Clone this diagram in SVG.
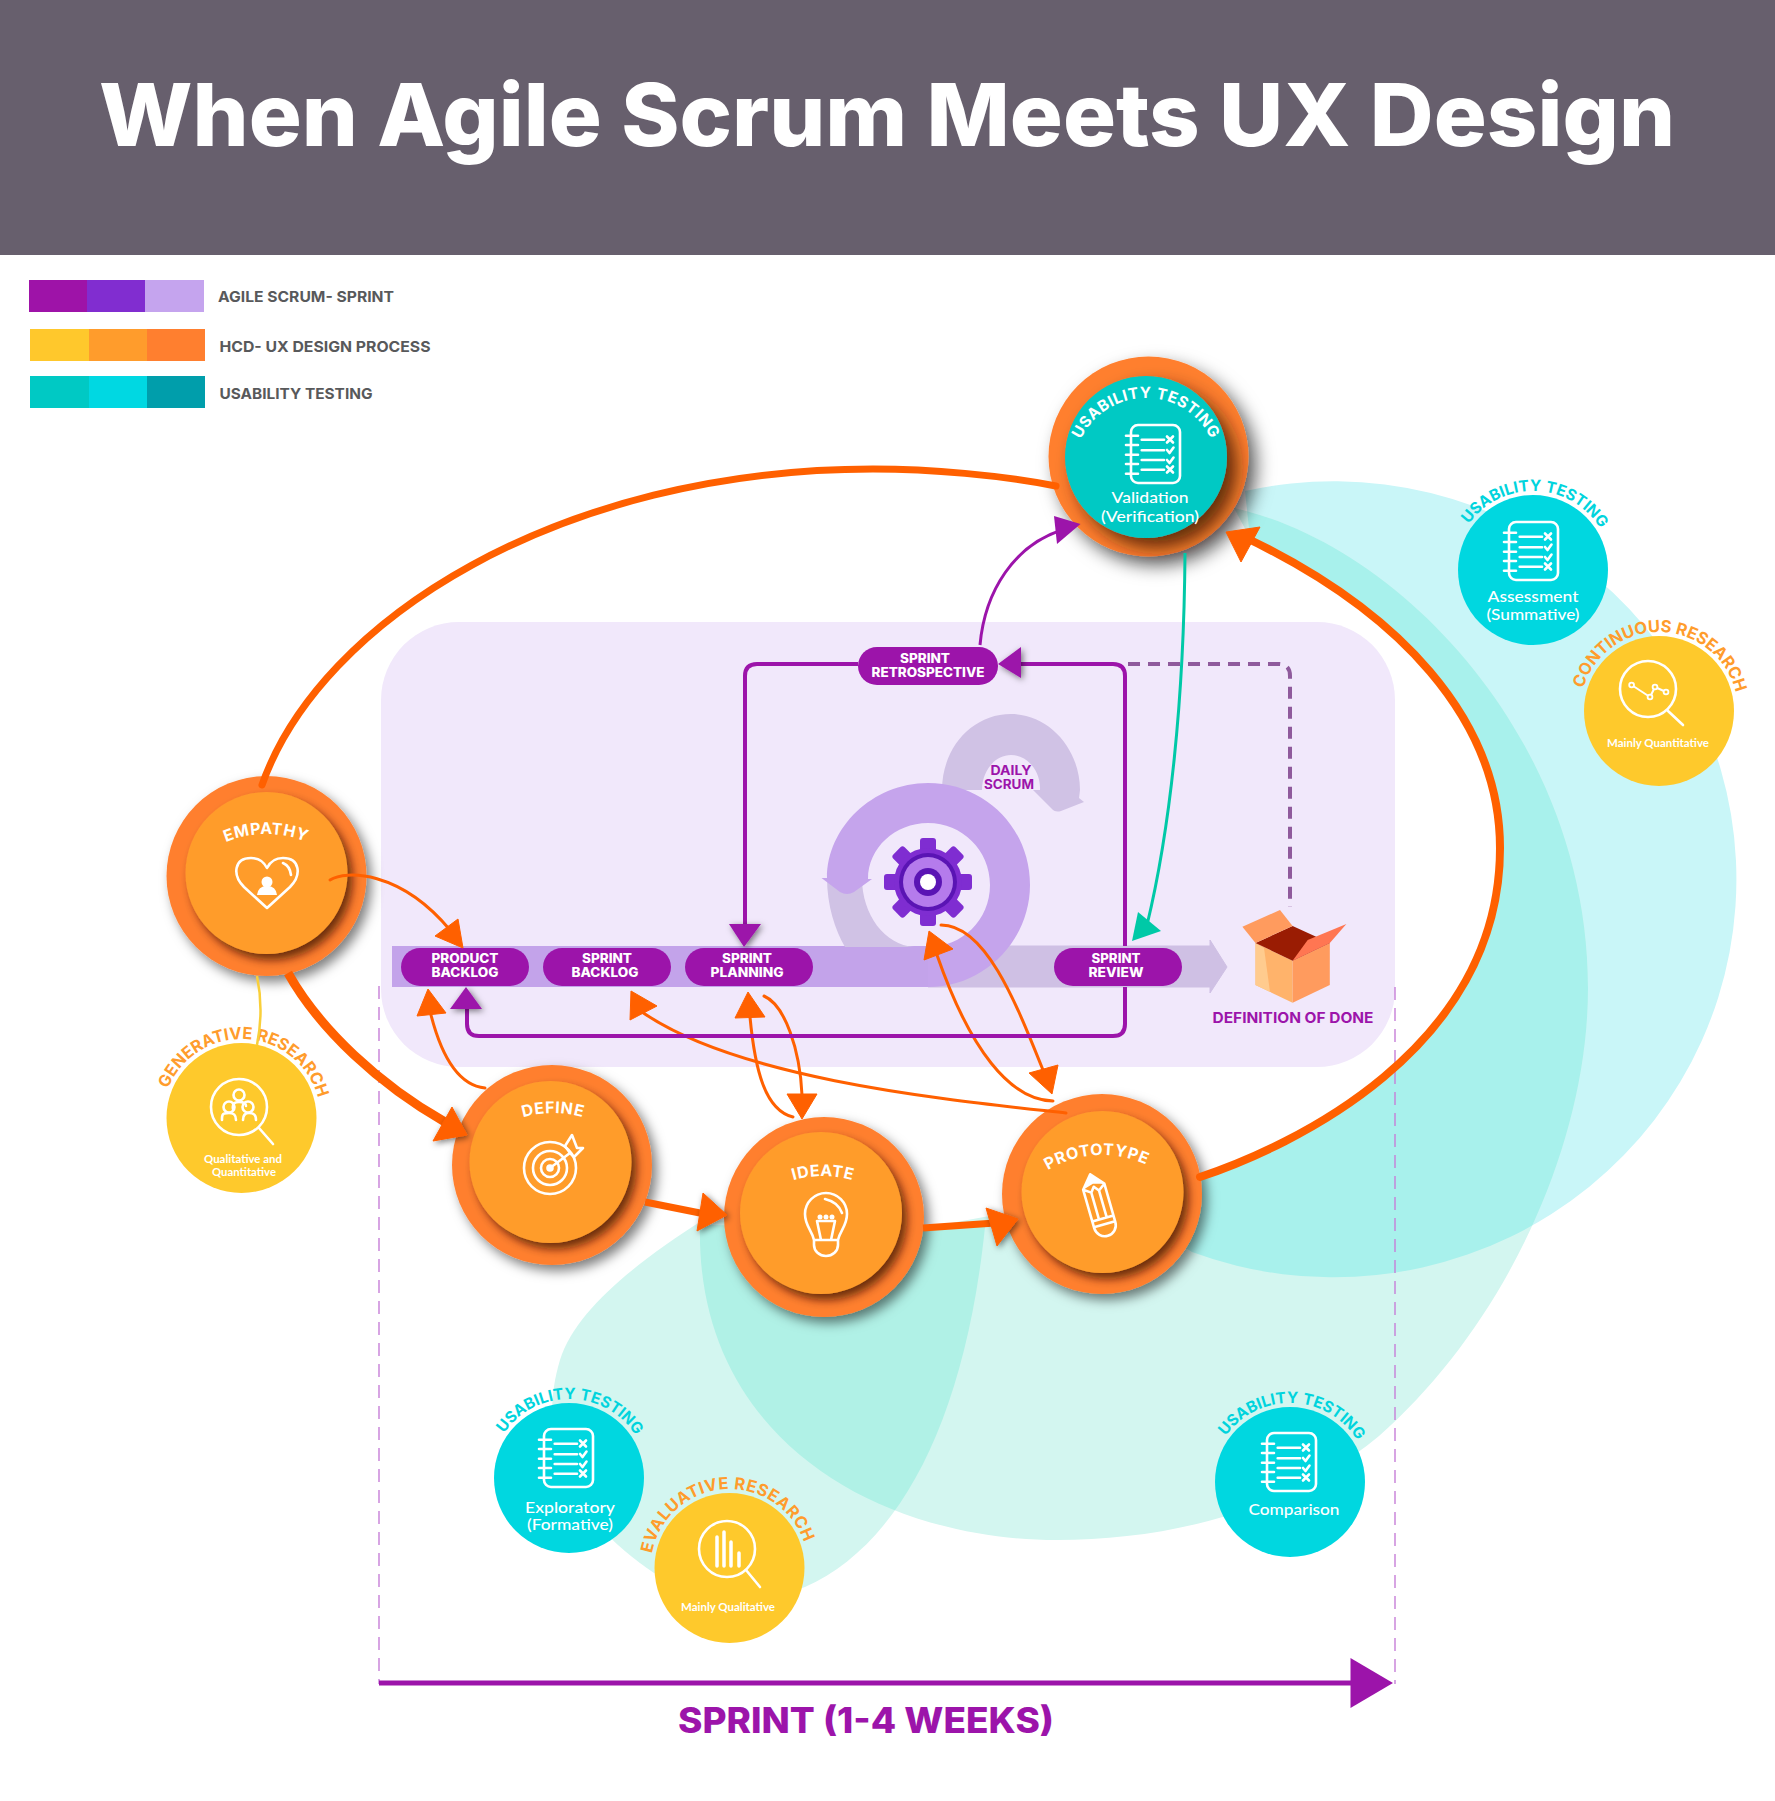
<svg xmlns="http://www.w3.org/2000/svg" width="1775" height="1801" viewBox="0 0 1775 1801">
<style>
.h{font-family:"Inter","Liberation Sans",sans-serif;font-weight:700}
.l{font-family:"Lato","Open Sans",sans-serif;fill:#fff;text-anchor:middle;font-weight:500}
.lb{font-weight:700}
.p{font-size:12.5px;fill:#fff;text-anchor:middle;font-weight:800}
.leg{font-size:15px;font-weight:700;fill:#58595b}
.arcw{font-size:16px;fill:#fff;letter-spacing:.6px;text-anchor:middle}
.arco{font-size:16.5px;letter-spacing:0;text-anchor:middle;fill:#ff9c2c}
.t{font-size:15.500px;letter-spacing:.1px;text-anchor:middle;fill:#00d4dd}
.ring{fill:#ff7f2f;filter:url(#sh)}
.core{fill:#ff9c2c;filter:url(#sh2)}
.teal{fill:#00d7e0}.yel{fill:#fec92c}
.ic{fill:none;stroke:#fff;stroke-width:2.6;stroke-linecap:round;stroke-linejoin:round}
.or{fill:none;stroke:#ff6000;stroke-linecap:round}
.ah{fill:#ff6000;stroke:#ff6000;stroke-width:1;stroke-linejoin:round}
.ap{fill:#9c14aa}
.pu{fill:none;stroke:#9c14aa;stroke-width:4}
.pill{fill:#9c14aa}
.vd{stroke:#c77fd8;stroke-width:1.4;stroke-dasharray:13 8;fill:none}
</style>
<defs>
<filter id="sh" x="-30%" y="-30%" width="170%" height="170%"><feDropShadow dx="5" dy="6" stdDeviation="6" flood-color="#000" flood-opacity=".5"/></filter>
<filter id="sh2" x="-30%" y="-30%" width="170%" height="170%"><feDropShadow dx="5" dy="6" stdDeviation="5" flood-color="#3a1500" flood-opacity=".75"/></filter>
<filter id="sh3" x="-30%" y="-30%" width="170%" height="170%"><feDropShadow dx="8" dy="9" stdDeviation="9" flood-color="#000" flood-opacity=".6"/></filter>
<filter id="sh4" x="-30%" y="-30%" width="170%" height="170%"><feDropShadow dx="10" dy="10" stdDeviation="9" flood-color="#3a1500" flood-opacity=".8"/></filter>
<filter id="sa" x="-50%" y="-50%" width="220%" height="220%"><feDropShadow dx="2" dy="2" stdDeviation="3" flood-color="#000" flood-opacity=".5"/></filter>
<path id="arcOuter" d="M-68.4,39.5A79,79 0 1 1 68.4,39.5"/>
<path id="arcInner" d="M-105,0A105,105 0 0 1 105,0"/>
<path id="arcVal" d="M-72,0A72,72 0 0 1 72,0"/>
<path id="shC" d="M1245,491A403,398 0 1 1 1192,1252L1102,1194L1200,1177C1290,1147 1500,1050 1500,848C1500,720 1400,610 1250,538Z"/>
<path id="shB" d="M1234,508C1400,545 1588,740 1588,988C1588,1150 1500,1330 1379,1436C1290,1510 1170,1540 1057,1540C880,1540 695,1440 700,1225L924,1228L1200,1177C1290,1147 1500,1050 1500,848C1500,720 1400,610 1250,538Z"/>
<path id="shA" d="M703,1220C640,1260 575,1310 560,1360C530,1460 590,1530 654,1573C690,1595 760,1605 805,1587C900,1545 965,1420 985,1227Z"/>
<clipPath id="clipC"><use href="#shC"/></clipPath>
<clipPath id="clipA"><use href="#shA"/></clipPath>
<g id="notebook" class="ic">
<rect x="5" y="0" width="49" height="58" rx="7"/>
<path d="M0,10.700H12M0,20H12M0,29.700H12M0,39H12M0,48.700H12M15.700,14.700H38M15.700,25.300H38M15.700,35H38M15.700,44.700H38"/>
<path d="M41,11.500L47,17.500M47,11.500L41,17.500M41,25L43.500,28L47.500,22.500M41,35L43.500,38L47.500,32.500M41,41.500L47,47.500M47,41.500L41,47.500"/>
</g>
</defs>
<rect id="bg" width="1775" height="1801" fill="#fff"/>
<rect id="header" width="1775" height="255" fill="#675f6d"/>
<text class="h" x="887" y="146" font-size="87" fill="#fff" text-anchor="middle" textLength="1576" lengthAdjust="spacingAndGlyphs" style="font-weight:800">When Agile Scrum Meets UX Design</text>
<g id="legend">
<rect x="29" y="280" width="58" height="32" fill="#9e13a8"/><rect x="87" y="280" width="58" height="32" fill="#812dd0"/><rect x="145" y="280" width="59" height="32" fill="#c5a4ee"/>
<rect x="30" y="329" width="59" height="32" fill="#ffc82c"/><rect x="89" y="329" width="58" height="32" fill="#ff9c2c"/><rect x="147" y="329" width="58" height="32" fill="#ff7f2f"/>
<rect x="30" y="376" width="59" height="32" fill="#00c9c4"/><rect x="89" y="376" width="58" height="32" fill="#00d8e2"/><rect x="147" y="376" width="58" height="32" fill="#009eab"/>
<text class="h leg" x="218" y="302" textLength="176" lengthAdjust="spacingAndGlyphs">AGILE SCRUM- SPRINT</text>
<text class="h leg" x="219.500" y="352" textLength="211" lengthAdjust="spacingAndGlyphs">HCD- UX DESIGN PROCESS</text>
<text class="h leg" x="219.500" y="399" textLength="153" lengthAdjust="spacingAndGlyphs">USABILITY TESTING</text>
</g>
<g id="background-shapes">
<use href="#shC" fill="#c9f6f8"/>
<use href="#shB" fill="#d3f6f0"/>
<use href="#shA" fill="#d3f6f0"/>
<use href="#shB" fill="#a8f1ec" clip-path="url(#clipC)"/>
<use href="#shB" fill="#b0f1e6" clip-path="url(#clipA)"/>
<rect x="381" y="622" width="1014" height="445" rx="78" fill="#f1e8fb"/>
<path class="vd" d="M379,986V1684M1395,987V1684"/>
</g>
<g id="sprint-cycle">
<path d="M942,790C942,748 972,714 1011,714C1050,714 1080,750 1080,790L1079,798L1084,802L1061,811Q1055,813 1051,808L1033,790L1040,790C1041,772 1028,755 1011,755C994,755 982,772 982,790Z" fill="#d0c2e5"/>
<path d="M928,946H1210V940L1227,967L1210,993V987H928Z" fill="#cfc0e4" stroke="#cfc0e4" stroke-linejoin="round"/>
<rect x="392" y="946" width="536" height="41" fill="#c3a3ea"/>
<path d="M827,878C827,905 835,930 845,947L914,947C885,945 862,915 862,878Z" fill="#d0c2e5"/>
<path d="M928,987C985,987 1030,940 1030,885C1030,828 985,783 928,783C872,783 827,828 827,878L821.500,878L840,892Q847,896 854,892L872,879L868,879C868,848 895,823 928,823C962,823 990,850 990,885C990,920 962,947 928,947Z" fill="#c5a4ec"/>
<g id="gear" transform="translate(928,882)">
<g fill="#7f2dd1"><rect x="-8" y="-44" width="16" height="18" rx="3"/><rect x="-8" y="-44" width="16" height="18" rx="3" transform="rotate(45)"/><rect x="-8" y="-44" width="16" height="18" rx="3" transform="rotate(90)"/><rect x="-8" y="-44" width="16" height="18" rx="3" transform="rotate(135)"/><rect x="-8" y="-44" width="16" height="18" rx="3" transform="rotate(180)"/><rect x="-8" y="-44" width="16" height="18" rx="3" transform="rotate(225)"/><rect x="-8" y="-44" width="16" height="18" rx="3" transform="rotate(270)"/><rect x="-8" y="-44" width="16" height="18" rx="3" transform="rotate(315)"/><circle r="34"/></g>
<circle r="29" fill="#5a14b4"/><circle r="25" fill="#b57bec"/><circle r="14" fill="#5a14b4"/><circle r="8" fill="#fff"/>
</g>
<g class="h" fill="#9c14aa" font-size="13" text-anchor="middle">
<text x="1011" y="775" textLength="41" lengthAdjust="spacingAndGlyphs">DAILY</text>
<text x="1009" y="789" textLength="50" lengthAdjust="spacingAndGlyphs">SCRUM</text>
</g>
</g>
<g id="definition-of-done">
<polygon points="1255.500,943 1292.600,960.700 1292.600,1002.700 1255.500,985" fill="#ffb36b"/>
<polygon points="1255.500,943 1264,948 1270,992 1255.500,985" fill="#ffcb8e"/>
<polygon points="1292.600,960.700 1329.800,943 1329.800,985 1292.600,1002.700" fill="#ff9b5e"/>
<polygon points="1255.500,943 1292.600,926 1329.800,943 1292.600,960.700" fill="#9a1c03"/>
<polygon points="1242.400,926.700 1280,910 1292.600,926 1255.500,943" fill="#ff9b5e"/>
<polygon points="1292.600,960.700 1307.700,940 1346.400,924 1329.800,943" fill="#ff7652"/>
<text class="h" x="1293" y="1023" font-size="14.500" fill="#9c14aa" text-anchor="middle" textLength="161" lengthAdjust="spacingAndGlyphs">DEFINITION OF DONE</text>
</g>
<g id="product-backlog"><rect class="pill" x="401" y="948" width="128" height="38" rx="19"/><text class="h p" x="465" y="963" textLength="67" lengthAdjust="spacingAndGlyphs">PRODUCT</text><text class="h p" x="465" y="977" textLength="67" lengthAdjust="spacingAndGlyphs">BACKLOG</text></g>
<g id="sprint-backlog"><rect class="pill" x="543" y="948" width="128" height="38" rx="19"/><text class="h p" x="607" y="963" textLength="50" lengthAdjust="spacingAndGlyphs">SPRINT</text><text class="h p" x="605" y="977" textLength="67" lengthAdjust="spacingAndGlyphs">BACKLOG</text></g>
<g id="sprint-planning"><rect class="pill" x="685" y="948" width="128" height="38" rx="19"/><text class="h p" x="747" y="963" textLength="50" lengthAdjust="spacingAndGlyphs">SPRINT</text><text class="h p" x="747" y="977" textLength="73" lengthAdjust="spacingAndGlyphs">PLANNING</text></g>
<g id="sprint-review"><rect class="pill" x="1054" y="948" width="128" height="38" rx="19"/><text class="h p" x="1116" y="963" textLength="49" lengthAdjust="spacingAndGlyphs">SPRINT</text><text class="h p" x="1116" y="977" textLength="55" lengthAdjust="spacingAndGlyphs">REVIEW</text></g>
<g id="sprint-retrospective"><rect class="pill" x="858" y="647" width="140" height="38" rx="19"/><text class="h p" x="925" y="663" textLength="50" lengthAdjust="spacingAndGlyphs">SPRINT</text><text class="h p" x="928" y="677" textLength="113" lengthAdjust="spacingAndGlyphs">RETROSPECTIVE</text></g>
<g id="empathy">
<circle class="ring" cx="266.500" cy="876" r="100"/><circle class="core" cx="266.500" cy="873" r="81"/>
<g transform="translate(266,939)"><text class="h arcw"><textPath href="#arcInner" startOffset="50%">EMPATHY</textPath></text></g>
<path class="ic" d="M267,908L244,887C232,875 234,858 251,858C259,858 264,862 267,868C270,862 275,858 283,858C300,858 302,875 290,887Z M283,863Q290,866 291,875"/>
<circle cx="267" cy="882" r="5.500" fill="#fff"/><path d="M257,895Q258,886 267,886Q276,886 277,895Z" fill="#fff"/>
</g>
<g id="define">
<circle class="ring" cx="552" cy="1165" r="100"/><circle class="core" cx="550.500" cy="1162" r="81"/>
<g transform="translate(553,1218)"><text class="h arcw"><textPath href="#arcInner" startOffset="50%">DEFINE</textPath></text></g>
<g class="ic"><circle cx="550" cy="1168" r="26"/><circle cx="550" cy="1168" r="17"/><circle cx="550" cy="1168" r="9"/><circle cx="550" cy="1168" r="2.500" fill="#fff"/>
<path d="M550,1168L570,1153M570,1153L565,1146L572,1135L577,1148L583,1148L574,1157Z"/></g>
</g>
<g id="ideate">
<circle class="ring" cx="824" cy="1217" r="100"/><circle class="core" cx="821" cy="1213" r="81"/>
<g transform="translate(823,1281)"><text class="h arcw"><textPath href="#arcInner" startOffset="50%">IDEATE</textPath></text></g>
<g class="ic"><path d="M814,1240C812,1230 805,1226 805,1214A21,21 0 1 1 847,1214C847,1226 840,1230 838,1240Z M814,1240V1245A12,11 0 0 0 838,1245V1240 M817,1221H835L831,1240M821,1240L817,1221 M825,1199Q838,1202 842,1213"/>
<path d="M820,1217h0M826,1217h0M832,1217h0" stroke-width="5"/></g>
</g>
<g id="prototype">
<circle class="ring" cx="1102" cy="1194" r="100"/><circle class="core" cx="1102.500" cy="1192" r="81"/>
<g transform="translate(1102,1260) rotate(-3)"><text class="h arcw"><textPath href="#arcInner" startOffset="50%">PROTOTYPE</textPath></text></g>
<g transform="translate(1099,1205) rotate(-16)"><path class="ic" d="M0,-32L11,-19V21A11,11 0 0 1 -11,21V-19Z M-11,-19L-4,-14V14M11,-19L4,-14V14M-4,-14L0,-19L4,-14 M-11,14H11M-11,20H11"/><path d="M0,-32L11,-19L0,-22L-11,-19Z" fill="#fff"/></g>
</g>
<g id="usability-validation">
<circle cx="1148.500" cy="456.500" r="100" fill="#ff7f2f" filter="url(#sh3)"/><circle cx="1146" cy="457" r="81" fill="#00c9c4" filter="url(#sh4)"/>
<g transform="translate(1146,470)"><text class="h arcw" style="font-size:15.500px;letter-spacing:.5px"><textPath href="#arcVal" startOffset="50%">USABILITY TESTING</textPath></text></g>
<use href="#notebook" x="1126" y="425"/>
<text class="l" x="1150" y="503" font-size="16" textLength="77" lengthAdjust="spacingAndGlyphs">Validation</text>
<text class="l" x="1150" y="522" font-size="16" textLength="98" lengthAdjust="spacingAndGlyphs">(Verification)</text>
</g>
<g id="generative-research">
<circle class="yel" cx="241.500" cy="1118" r="75"/>
<g transform="translate(241.500,1118) rotate(3.500)"><text class="h arco"><textPath href="#arcOuter" startOffset="50%">GENERATIVE RESEARCH</textPath></text></g>
<g class="ic"><circle cx="239" cy="1107" r="28"/><path d="M259,1128L273,1144"/>
<circle cx="239" cy="1095" r="5.500"/><circle cx="229" cy="1107" r="5.500"/><circle cx="248" cy="1107" r="5.500"/>
<path d="M222,1120V1118C222,1113 225,1113 229,1113C233,1113 236,1114 236,1120M243,1120C243,1115 245,1113 249,1113C254,1113 256,1115 256,1120M233,1109C232,1103 235,1102 239,1102C243,1102 246,1103 246,1106"/></g>
<text class="l lb" x="243" y="1163" font-size="12" textLength="78" lengthAdjust="spacingAndGlyphs">Qualitative and</text>
<text class="l lb" x="244" y="1176" font-size="12" textLength="64" lengthAdjust="spacingAndGlyphs">Quantitative</text>
</g>
<g id="evaluative-research">
<circle class="yel" cx="729.500" cy="1568" r="75"/>
<g transform="translate(729.500,1568) rotate(-4)"><text class="h arco" style="letter-spacing:.6px"><textPath href="#arcOuter" startOffset="50%">EVALUATIVE RESEARCH</textPath></text></g>
<g class="ic"><circle cx="727" cy="1549" r="28"/><path d="M746,1570L760,1587"/><path stroke-width="3.500" d="M717,1537V1566M724,1532V1566M731,1542V1566M739,1553V1566"/></g>
<text class="l lb" x="728" y="1611" font-size="12" textLength="94" lengthAdjust="spacingAndGlyphs">Mainly Qualitative</text>
</g>
<g id="continuous-research">
<circle class="yel" cx="1659" cy="711" r="75"/>
<g transform="translate(1659,711) rotate(1.500)"><text class="h arco"><textPath href="#arcOuter" startOffset="50%">CONTINUOUS RESEARCH</textPath></text></g>
<g class="ic"><circle cx="1648" cy="689" r="28"/><path d="M1668,711L1683,725"/><path stroke-width="2" d="M1631.600,685L1650,697L1655,687L1666,692"/><g stroke-width="1.800" fill="#fec92c"><circle cx="1631.600" cy="685" r="2.400"/><circle cx="1650" cy="697" r="2.400"/><circle cx="1655" cy="687" r="2.400"/><circle cx="1666" cy="692" r="2.400"/></g></g>
<text class="l lb" x="1658" y="747" font-size="12" textLength="102" lengthAdjust="spacingAndGlyphs">Mainly Quantitative</text>
</g>
<g id="usability-assessment">
<circle class="teal" cx="1533" cy="570" r="75"/>
<g transform="translate(1533,570) rotate(2)"><text class="h t"><textPath href="#arcOuter" startOffset="50%">USABILITY TESTING</textPath></text></g>
<use href="#notebook" x="1504" y="522"/>
<text class="l" x="1533" y="602" font-size="16" textLength="91" lengthAdjust="spacingAndGlyphs">Assessment</text>
<text class="l" x="1533" y="620" font-size="16" textLength="93" lengthAdjust="spacingAndGlyphs">(Summative)</text>
</g>
<g id="usability-exploratory">
<circle class="teal" cx="569" cy="1478" r="75"/>
<g transform="translate(569,1478) rotate(1)"><text class="h t"><textPath href="#arcOuter" startOffset="50%">USABILITY TESTING</textPath></text></g>
<use href="#notebook" x="539" y="1429"/>
<text class="l" x="570" y="1513" font-size="16" textLength="90" lengthAdjust="spacingAndGlyphs">Exploratory</text>
<text class="l" x="570" y="1530" font-size="16" textLength="86" lengthAdjust="spacingAndGlyphs">(Formative)</text>
</g>
<g id="usability-comparison">
<circle class="teal" cx="1290" cy="1482" r="75"/>
<g transform="translate(1290,1482) rotate(2)"><text class="h t"><textPath href="#arcOuter" startOffset="50%">USABILITY TESTING</textPath></text></g>
<use href="#notebook" x="1262" y="1433"/>
<text class="l" x="1294" y="1515" font-size="16" textLength="91" lengthAdjust="spacingAndGlyphs">Comparison</text>
</g>
<g id="connectors">
<path d="M257,976C262,1000 262,1020 257,1045" fill="none" stroke="#f9cf3a" stroke-width="2.500"/>
<path class="or" stroke-width="7" d="M262,785C320,620 560,469 873,469C930,469 1000,475 1056,486"/>
<path class="or" stroke-width="8" d="M1200,1177C1290,1147 1500,1050 1500,848C1500,720 1400,610 1240,535"/>
<path class="or" stroke-width="9" style="stroke-linecap:butt" d="M288,973C320,1030 380,1085 445,1122"/>
<path class="or" stroke-width="7" style="stroke-linecap:butt" d="M645,1202L705,1214"/>
<path class="or" stroke-width="7" style="stroke-linecap:butt" d="M923,1228L995,1223"/>
<polygon class="ah" filter="url(#sa)" points="467,1135 452,1107 433,1141"/>
<polygon class="ah" filter="url(#sa)" points="727,1215 703,1193 697,1231"/>
<polygon class="ah" filter="url(#sa)" points="1018,1219 986,1208 997,1246"/>
<polygon class="ah" points="1226,532 1260,527 1241,562"/>
<path class="or" stroke-width="3" d="M330,880C345,870 400,870 450,930"/>
<polygon class="ah" points="463,948 458,919 435,936"/>
<path class="or" stroke-width="3" d="M485,1088C455,1085 440,1050 431,1015"/>
<polygon class="ah" points="428,989 417,1016 446,1013"/>
<path class="or" stroke-width="3" d="M1066,1113C950,1100 740,1080 642,1012"/>
<polygon class="ah" points="631,991 657,1006 630,1020"/>
<path class="or" stroke-width="3" d="M793,1117C765,1110 755,1070 750,1017"/>
<polygon class="ah" points="748,992 735,1018 765,1017"/>
<path class="or" stroke-width="3" d="M764,996C785,1005 800,1050 802,1095"/>
<polygon class="ah" points="802,1119 787,1094 817,1094"/>
<path class="or" stroke-width="3" d="M1053,1101C1010,1100 970,1050 937,955"/>
<polygon class="ah" points="929,931 924,960 953,949"/>
<path class="or" stroke-width="3" d="M941,925C985,925 1015,1000 1043,1070"/>
<polygon class="ah" points="1052,1094 1029,1073 1058,1065"/>
<path d="M1185,553C1184,700 1170,830 1147,925" fill="none" stroke="#00c9a7" stroke-width="3"/>
<polygon points="1132,941 1138,912 1161,931" fill="#00c9a7"/>
<path class="pu" style="stroke-width:3" d="M980,645C985,590 1015,545 1062,530"/>
<polygon class="ap" points="1080.500,524 1054,516 1057,544"/>
<path class="pu" d="M1020,664H1113Q1125,664 1125,676V946M1125,987V1024Q1125,1036 1113,1036H479Q467,1036 467,1024V1005"/>
<path class="pu" d="M858,664H757Q745,664 745,676V928"/>
<polygon class="ap" filter="url(#sa)" points="998,664 1021,647 1021,678"/>
<polygon class="ap" filter="url(#sa)" points="466,987 450,1009 482,1009"/>
<polygon class="ap" filter="url(#sa)" points="744,947 729,924 761,924"/>
<path d="M1128,664H1278Q1290,664 1290,676V907" fill="none" stroke="#8f5a9c" stroke-width="4" stroke-dasharray="12 8"/>
<path d="M379,1683H1352" stroke="#9c14aa" stroke-width="5"/>
<polygon class="ap" points="1393,1683 1350.500,1658 1350.500,1708"/>
</g>
<text id="sprint-label" class="h" x="866" y="1733" font-size="35" fill="#9c14aa" text-anchor="middle" textLength="376" lengthAdjust="spacingAndGlyphs" style="font-weight:800">SPRINT (1-4 WEEKS)</text>
</svg>
